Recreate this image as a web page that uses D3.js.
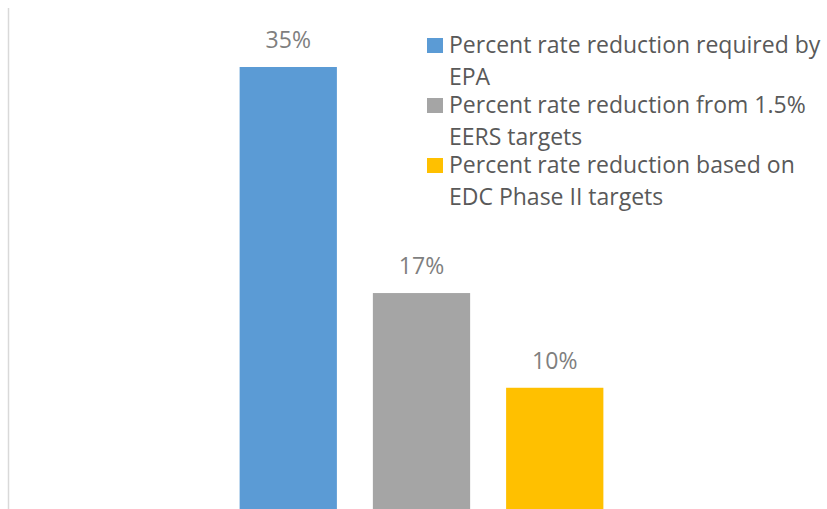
<!DOCTYPE html>
<html><head><meta charset="utf-8">
<script src="https://cdn.jsdelivr.net/npm/d3@7"></script>
<style>body{margin:0;background:#fff}svg{display:block}</style>
</head><body>
<svg id="c" width="827" height="509"></svg>
<script>
const categories = ["Percent rate reduction required by EPA","Percent rate reduction from 1.5% EERS targets","Percent rate reduction based on EDC Phase II targets"];
const values = [0.35, 0.171, 0.096];
const colors = ["#5b9bd5","#a5a5a5","#ffc000"];
const legendLines = [["Percent rate reduction required by","EPA"],["Percent rate reduction from 1.5%","EERS targets"],["Percent rate reduction based on","EDC Phase II targets"]];

const svg = d3.select("#c");
const x = d3.scaleBand().domain(categories).range([173, 670]).paddingInner(0.27).paddingOuter(0.5);
const y = d3.scaleLinear().domain([0, 0.35]).range([509, 67]);
const fmt = d3.format(".0%");

svg.append("line").attr("x1",8.5).attr("x2",8.5).attr("y1",8).attr("y2",509)
  .attr("stroke","#d9d9d9").attr("stroke-width",1.5);

svg.selectAll("rect.bar").data(categories).join("rect").attr("class","bar")
  .attr("x", d=>x(d)).attr("width", x.bandwidth())
  .attr("y", (d,i)=>y(values[i])).attr("height",(d,i)=>y(0)-y(values[i]))
  .attr("fill",(d,i)=>colors[i]);

svg.selectAll("text.lbl").data(categories).join("text").attr("class","lbl")
  .attr("x", d=>x(d)+x.bandwidth()/2).attr("y",(d,i)=>y(values[i])-19)
  .attr("text-anchor","middle").attr("font-family","Open Sans").attr("font-size",23)
  .attr("fill","#7f7f7f").text((d,i)=>fmt(values[i]));

const lg = svg.append("g");
const lt = lg.append("text").attr("font-family","Open Sans").attr("font-size",23).attr("fill","#595959");
legendLines.forEach((lines,i)=>{
  const top = 38 + i*60;
  lg.append("rect").attr("x",427).attr("y",top).attr("width",16).attr("height",15).attr("fill",colors[i]);
  lines.forEach((t,j)=>{
    lt.append("tspan").attr("x",449).attr("y",top+15+j*32).text(t);
  });
});
</script>
</body></html>
